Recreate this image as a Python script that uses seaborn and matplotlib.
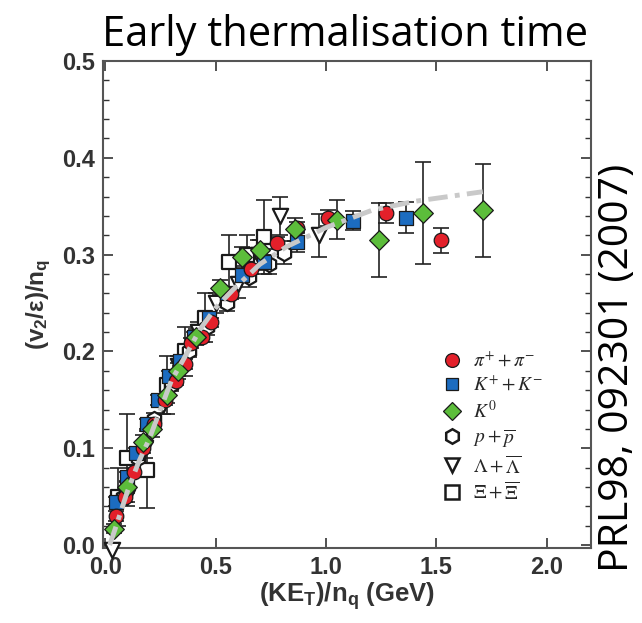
import numpy as np
import pandas as pd
import matplotlib
matplotlib.use("Agg")
import matplotlib.pyplot as plt
from matplotlib.lines import Line2D
from matplotlib.ticker import MultipleLocator
import seaborn as sns

# ---------------- data ----------------
pi_x = [0.05, 0.09, 0.13, 0.17, 0.22, 0.27, 0.32, 0.36, 0.39, 0.44, 0.48, 0.57, 0.66, 0.78, 0.87, 1.01, 1.27, 1.52]
pi_y = [0.030, 0.050, 0.075, 0.100, 0.125, 0.150, 0.170, 0.187, 0.209, 0.215, 0.230, 0.259, 0.285, 0.312, 0.328, 0.338, 0.343, 0.315]
pi_e = [0.005, 0.005, 0.005, 0.005, 0.005, 0.005, 0.005, 0.005, 0.005, 0.005, 0.005, 0.005, 0.005, 0.006, 0.006, 0.008, 0.010, 0.013]

k_x = [0.05, 0.10, 0.14, 0.19, 0.24, 0.29, 0.34, 0.40, 0.47, 0.55, 0.62, 0.72, 0.87, 1.12, 1.36]
k_y = [0.045, 0.070, 0.095, 0.125, 0.150, 0.175, 0.190, 0.215, 0.235, 0.260, 0.279, 0.292, 0.313, 0.335, 0.338]
k_e = [0.005, 0.005, 0.005, 0.005, 0.005, 0.005, 0.005, 0.005, 0.006, 0.006, 0.007, 0.008, 0.010, 0.010, 0.016]

k0_x = [0.04, 0.10, 0.17, 0.21, 0.28, 0.33, 0.41, 0.52, 0.62, 0.70, 0.86, 1.05, 1.24, 1.44, 1.71]
k0_y = [0.017, 0.060, 0.106, 0.120, 0.155, 0.180, 0.215, 0.266, 0.298, 0.305, 0.326, 0.336, 0.315, 0.343, 0.346]
k0_e = [0.005, 0.006, 0.008, 0.008, 0.008, 0.008, 0.008, 0.008, 0.010, 0.010, 0.012, 0.020, 0.038, 0.053, 0.048]

p_x = [0.08, 0.15, 0.22, 0.30, 0.38, 0.46, 0.55, 0.65, 0.74, 0.81]
p_y = [0.050, 0.090, 0.130, 0.165, 0.200, 0.225, 0.250, 0.277, 0.290, 0.302]
p_e = [0.006, 0.006, 0.006, 0.006, 0.006, 0.008, 0.008, 0.010, 0.010, 0.012]

lam_x = [0.03, 0.10, 0.18, 0.26, 0.33, 0.42, 0.50, 0.60, 0.69, 0.79, 0.97]
lam_y = [-0.005, 0.050, 0.100, 0.145, 0.185, 0.220, 0.250, 0.270, 0.300, 0.340, 0.320]
lam_e = [0.000, 0.010, 0.010, 0.010, 0.010, 0.010, 0.010, 0.015, 0.015, 0.020, 0.022]

xi_x = [0.06, 0.10, 0.19, 0.28, 0.36, 0.45, 0.56, 0.64, 0.72]
xi_y = [0.050, 0.090, 0.078, 0.165, 0.200, 0.235, 0.292, 0.300, 0.318]
xi_e = [0.030, 0.045, 0.040, 0.030, 0.025, 0.025, 0.028, 0.020, 0.038]

fit_x = [0.02, 0.05, 0.10, 0.15, 0.20, 0.30, 0.35, 0.43, 0.50, 0.58, 0.70, 0.82, 1.00, 1.21, 1.40, 1.71]
fit_y = [0.000, 0.020, 0.055, 0.085, 0.110, 0.170, 0.190, 0.223, 0.245, 0.264, 0.290, 0.308, 0.328, 0.346, 0.355, 0.365]

labels = [r'$\pi^{+}+\pi^{-}$', r'$K^{+}+K^{-}$', r'$K^{0}$',
          r'$p+\overline{p}$', r'$\Lambda+\overline{\Lambda}$', r'$\Xi+\overline{\Xi}$']

x_ticks = [0.0, 0.5, 1.0, 1.5, 2.0]
y_ticks = [0.0, 0.1, 0.2, 0.3, 0.4, 0.5]

# ---------------- style ----------------
sns.set_theme(style="ticks")
plt.rcParams['font.family'] = ['Liberation Sans', 'DejaVu Sans']
plt.rcParams['mathtext.fontset'] = 'custom'
plt.rcParams['mathtext.rm'] = 'Liberation Sans'
plt.rcParams['mathtext.bf'] = 'Liberation Sans:bold'
plt.rcParams['mathtext.it'] = 'Liberation Sans:italic'

fig = plt.figure(figsize=(6.42, 6.23), dpi=100)
ax = fig.add_axes([103/642, 75/623, 488/642, 487/623])

series = [
    (pi_x, pi_y, pi_e, 'o', '#e3202a', 10.5),
    (k_x, k_y, k_e, 's', '#1c6cc0', 9.5),
    (k0_x, k0_y, k0_e, 'D', '#5cbd3b', 10),
    (p_x, p_y, p_e, 'h', 'white', 11),
    (lam_x, lam_y, lam_e, 'v', 'white', 11),
    (xi_x, xi_y, xi_e, 's', 'white', 10),
]

handles = []
draw_order = [5, 4, 3, 1, 0, 2]
for zi, idx in enumerate(draw_order):
    x, y, e, m, c, ms = series[idx]
    ax.errorbar(x, y, yerr=e, fmt='none', ecolor='#222222', elinewidth=1.2,
                capsize=6, capthick=1.2, zorder=2 + zi * 0.1)
    df = pd.DataFrame({'x': x, 'y': y})
    sns.scatterplot(data=df, x='x', y='y', ax=ax, marker=m, s=ms ** 2,
                    color=c, edgecolor='#1a1a1a', linewidth=1.6 if c == 'white' else 0.9,
                    zorder=3 + zi * 0.1, clip_on=False, legend=False)

for idx in range(6):
    x, y, e, m, c, ms = series[idx]
    handles.append(Line2D([], [], linestyle='none', marker=m, markersize=ms * 0.95,
                          markerfacecolor=c, markeredgecolor='#1a1a1a',
                          markeredgewidth=1.8 if c == 'white' else 0.9))

sns.lineplot(x=fit_x, y=fit_y, ax=ax, color='#c9c9c9', linewidth=3.5,
             linestyle=(0, (4, 1.5, 1, 1.5)), zorder=6, sort=False)

ax.set_xlim(-0.01, 2.2)
ax.set_ylim(-0.003, 0.5)
ax.set_xticks(x_ticks)
ax.set_xticklabels([f'{v:.1f}' for v in x_ticks])
ax.set_yticks(y_ticks)
ax.set_yticklabels([f'{v:.1f}' for v in y_ticks])
ax.yaxis.set_minor_locator(MultipleLocator(0.02))

ax.tick_params(axis='both', which='both', direction='in', top=True, right=True,
               colors='#333333', labelcolor='#333333')
ax.tick_params(axis='both', which='major', length=7, width=1.2, labelsize=17, pad=6)
ax.tick_params(axis='both', which='minor', length=4, width=1.0)
ax.tick_params(axis='x', which='minor', bottom=False, top=False)
for lab in ax.get_xticklabels() + ax.get_yticklabels():
    lab.set_fontweight('bold')
for sp in ax.spines.values():
    sp.set_color('#555555')
    sp.set_linewidth(1.5)

ax.set_xlabel(r'(KE$_\mathbf{T}$)/n$_\mathbf{q}$ (GeV)', fontsize=18.5, fontweight='bold',
              color='#333333', labelpad=1)
ax.set_ylabel(r'(v$_\mathbf{2}$/ε)/n$_\mathbf{q}$', fontsize=17.5, fontweight='bold',
              color='#333333', labelpad=6)

leg = ax.legend(handles, labels, loc='upper left', bbox_to_anchor=(0.655, 0.438),
                frameon=False, handletextpad=0.5, labelspacing=0.25, handlelength=1.2,
                prop={'size': 14, 'math_fontfamily': 'stix'})

fig.text(0.537, 0.978, 'Early thermalisation time', ha='center', va='top',
         fontsize=30, family='Open Sans', color='black')
fig.text(0.962, 0.41, 'PRL98, 092301 (2007)', ha='center', va='center',
         rotation=90, fontsize=29.5, family='Open Sans', color='black')

fig.savefig('out.png', dpi=100)
